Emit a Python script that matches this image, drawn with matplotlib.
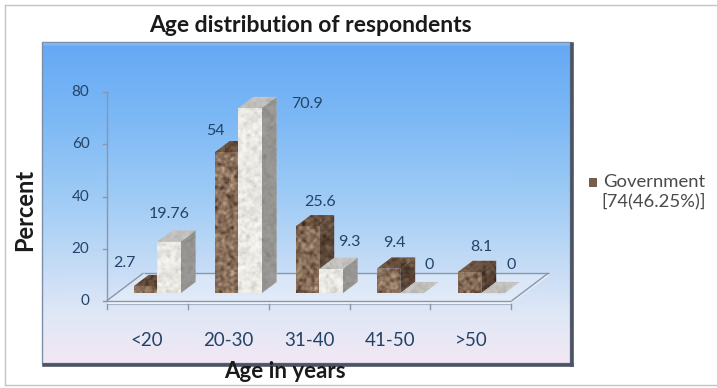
import numpy as np
import matplotlib
matplotlib.use("Agg")
import matplotlib.pyplot as plt
from matplotlib.patches import Polygon, Rectangle
from matplotlib.lines import Line2D
from matplotlib.colors import LinearSegmentedColormap, to_rgb

# ---- data ----
categories = ["<20", "20-30", "31-40", "41-50", ">50"]
government = [2.7, 54, 25.6, 9.4, 8.1]
private = [19.76, 70.9, 9.3, 0, 0]
y_ticks = [0, 20, 40, 60, 80]
title = "Age distribution of respondents"
x_title = "Age in years"
y_title = "Percent"
legend_lines = ["Government", "[74(46.25%)]"]

# label nudges (pixels) relative to the top-front centre of each bar
gov_label_offsets = [(-21, 23), (-11, 21), (12, 24), (6, 26), (12, 25)]
pri_label_offsets = [(0, 28), (57, 4), (18, 27), (17, 28), (18, 28)]

FONT = "Lato"
LABEL_COLOR = "#234468"

W, H = 717, 388
fig = plt.figure(figsize=(W / 100, H / 100), dpi=100)
fig.patch.set_facecolor("white")

# plot box (pixels) and the pseudo-3D scale
BX0, BX1, BY0, BY1 = 42, 570, 42, 363
X0PX, Y0PX, PX_CAT, PX_VAL = 147, 301, 81, 2.61
ax = fig.add_axes([BX0 / W, 1 - BY1 / H, (BX1 - BX0) / W, (BY1 - BY0) / H])
x_lo, x_hi = (BX0 - X0PX) / PX_CAT, (BX1 - X0PX) / PX_CAT
y_lo, y_hi = (Y0PX - BY1) / PX_VAL, (Y0PX - BY0) / PX_VAL
ext = [x_lo, x_hi, y_lo, y_hi]
ax.axis("off")

# depth vector of the floor (data units) and bar geometry
DX, DY = 37 / PX_CAT, 28 / PX_VAL
Z0, Z1 = 0.28, 0.68
BAR_W = 0.29

# ---- background gradient ----
npx_h, npx_w = BY1 - BY0, BX1 - BX0
stops = [(0, "#9cc8f6"), (4, "#66a9f4"), (70, "#7ab7f5"), (150, "#9ccaf5"),
         (225, "#c6dcf6"), (270, "#dfe7f6"), (321, "#f3e8f4")]
rows = np.arange(npx_h)
grad = np.zeros((npx_h, 1, 3))
for c in range(3):
    grad[:, 0, c] = np.interp(rows, [s[0] for s in stops],
                              [to_rgb(s[1])[c] for s in stops])
ax.imshow(grad, extent=ext, aspect="auto", origin="upper", zorder=0,
          interpolation="bilinear")

# ---- granite textures (deterministic hash noise, softened) ----
def hash_noise(nx, ny, cell, seed):
    jj, ii = np.meshgrid(np.arange(nx) // cell, np.arange(ny) // cell)
    v = np.sin(ii * 12.9898 + jj * 78.233 + seed) * 43758.5453
    return v - np.floor(v)


def box_blur(a, r):
    out = a.copy()
    for axis in (0, 1):
        acc = np.zeros_like(out)
        for s in range(-r, r + 1):
            acc += np.roll(out, s, axis=axis)
        out = acc / (2 * r + 1)
    return out


noise = (0.35 * hash_noise(npx_w, npx_h, 1, 0.3)
         + 0.35 * hash_noise(npx_w, npx_h, 2, 1.7)
         + 0.30 * hash_noise(npx_w, npx_h, 4, 5.1))
noise = box_blur(noise, 1)
noise = (noise - noise.min()) / (noise.max() - noise.min())
brown_cmap = LinearSegmentedColormap.from_list(
    "granite", ["#3e2c20", "#5e4636", "#7c6250", "#927862", "#ab937a", "#cdbca4"])
white_cmap = LinearSegmentedColormap.from_list(
    "marble", ["#c4c2bc", "#dcdad4", "#ebe9e4", "#f5f4f0", "#fdfdfb"])
brown_tex = brown_cmap(noise)[..., :3]
white_tex = white_cmap(noise)[..., :3]


def textured_face(xy, tex, z, shade=None, alpha=0.0):
    clip = Polygon(xy, closed=True, facecolor="none", edgecolor="none")
    ax.add_patch(clip)
    im = ax.imshow(tex, extent=ext, aspect="auto", origin="upper",
                   zorder=z, interpolation="bilinear")
    im.set_clip_path(clip)
    if shade is not None:
        ax.add_patch(Polygon(xy, closed=True, facecolor=shade, alpha=alpha,
                             edgecolor="none", zorder=z + 0.01))


def draw_bar(x_left, value, tex, z, top_shade, top_alpha, side_shade, side_alpha):
    fx0 = x_left + Z0 * DX
    fx1 = fx0 + BAR_W
    fy0 = Z0 * DY
    fy1 = fy0 + value
    ddx, ddy = (Z1 - Z0) * DX, (Z1 - Z0) * DY
    side = [(fx1, fy0), (fx1, fy1), (fx1 + ddx, fy1 + ddy), (fx1 + ddx, fy0 + ddy)]
    top = [(fx0, fy1), (fx1, fy1), (fx1 + ddx, fy1 + ddy), (fx0 + ddx, fy1 + ddy)]
    if value > 0:
        textured_face(side, tex, z, side_shade, side_alpha)
    textured_face(top, tex, z + 0.02, top_shade, top_alpha)
    if value > 0:
        front = [(fx0, fy0), (fx1, fy0), (fx1, fy1), (fx0, fy1)]
        textured_face(front, tex, z + 0.04)
    return (fx0 + fx1) / 2, fy1


# ---- floor ----
n = len(categories)
fl = [(-0.5, 0), (n - 0.5, 0), (n - 0.5 + DX, DY), (-0.5 + DX, DY)]
ax.add_patch(Polygon(fl, closed=True, facecolor="white", alpha=0.25,
                     edgecolor="none", zorder=2))
slab = 1.1
ax.add_patch(Polygon([(-0.5, 0), (n - 0.5, 0), (n - 0.5, -slab), (-0.5, -slab)],
                     closed=True, facecolor="#f4f6fb", edgecolor="none", zorder=2.1))
ax.add_patch(Polygon([(n - 0.5, 0), (n - 0.5 + DX, DY), (n - 0.5 + DX, DY - slab),
                      (n - 0.5, -slab)], closed=True, facecolor="#e6ecf6",
                     edgecolor="none", zorder=2.1))
edge_kw = dict(color="#8a96aa", lw=1.0, zorder=3, solid_capstyle="butt")
ax.plot([fl[3][0], fl[2][0]], [fl[3][1], fl[2][1]], **edge_kw)
ax.plot([fl[0][0], fl[3][0]], [fl[0][1], fl[3][1]], **edge_kw)
ax.plot([fl[1][0], fl[2][0]], [fl[1][1], fl[2][1]], **edge_kw)
ax.plot([fl[0][0], fl[1][0]], [0, 0], **edge_kw)
ax.plot([fl[0][0], fl[1][0]], [-slab, -slab], color="#a8b2c4", lw=0.8, zorder=3)

# value axis
ax.plot([-0.5, -0.5], [0, max(y_ticks)], color="#8a96aa", lw=1.0, zorder=3)
for t in y_ticks:
    ax.plot([-0.5 - 4 / PX_CAT, -0.5], [t, t], color="#8a96aa", lw=1.0, zorder=3)
    ax.annotate(str(t), (-0.5, t), xytext=(-17, 0), textcoords="offset pixels",
                ha="right", va="center", fontsize=11, family=FONT,
                color=LABEL_COLOR, zorder=20)

# category ticks and labels
for k in range(n + 1):
    ax.plot([k - 0.5, k - 0.5], [-slab, -slab - 5 / PX_VAL], color="#8a96aa",
            lw=1.0, zorder=3)
for i, cat in enumerate(categories):
    ax.annotate(cat, (i, 0), xytext=(0, -39), textcoords="offset pixels",
                ha="center", va="center", fontsize=13.5, family=FONT,
                color=LABEL_COLOR, zorder=20)

# ---- bars ----
for i in range(n):
    zb = 10 + i
    gx, gy = draw_bar(i - BAR_W, government[i], brown_tex, zb,
                      "#2a1408", 0.32, "#1a0e06", 0.40)
    px, py = draw_bar(i, private[i], white_tex, zb + 0.5,
                      "#5a5a5a", 0.28, "#303030", 0.45)
    for (x, y, v, off) in [(gx, gy, government[i], gov_label_offsets[i]),
                           (px, py, private[i], pri_label_offsets[i])]:
        ax.annotate(f"{v:g}", (x, y), xytext=off, textcoords="offset pixels",
                    ha="center", va="center", fontsize=11.5, family=FONT,
                    color=LABEL_COLOR, zorder=30)

ax.set_xlim(x_lo, x_hi)
ax.set_ylim(y_lo, y_hi)

# ---- plot box frame with shadow ----
ax.add_patch(Rectangle((0, 0), 1, 1, transform=ax.transAxes, fill=False,
                       edgecolor="#7d8fa8", lw=1.0, zorder=40, clip_on=False))
ax.add_line(Line2D([1.003, 1.003], [-0.006, 0.995], transform=ax.transAxes,
                   color="#4c5464", lw=2.6, zorder=41, clip_on=False))
ax.add_line(Line2D([0.004, 1.003], [-0.006, -0.006], transform=ax.transAxes,
                   color="#4c5464", lw=2.6, zorder=41, clip_on=False))

# ---- outer border ----
fig.add_artist(Line2D([5 / W, 1.0], [1 - 5 / H, 1 - 5 / H], transform=fig.transFigure,
                      color="#c4c4c4", lw=1.0))
fig.add_artist(Line2D([5 / W, 5 / W], [1 - 5 / H, 1 - 385 / H], transform=fig.transFigure,
                      color="#c4c4c4", lw=1.0))
fig.add_artist(Line2D([5 / W, 1.0], [1 - 385 / H, 1 - 385 / H], transform=fig.transFigure,
                      color="#c4c4c4", lw=1.0))

# ---- titles ----
fig.text(310 / W, 1 - 25 / H, title, ha="center", va="center", fontsize=16.5,
         fontweight="bold", family=FONT, color="#1a1a1a")
fig.text(25 / W, 1 - 210 / H, y_title, ha="center", va="center", rotation=90,
         fontsize=17, fontweight="bold", family=FONT, color="#1a1a1a")
fig.text(285 / W, 1 - 372 / H, x_title, ha="center", va="center", fontsize=16,
         fontweight="bold", family=FONT, color="#1a1a1a", zorder=50)

# ---- legend ----
fig.add_artist(Rectangle((589 / W, 1 - 186 / H), 7 / W, 8 / H, transform=fig.transFigure,
                         facecolor="#7a5e48", edgecolor="#4a3a2e", lw=0.5))
fig.text(603 / W, 1 - 182 / H, legend_lines[0], ha="left", va="center",
         fontsize=13.3, family=FONT, color="#4a4a4a")
fig.text(601 / W, 1 - 201 / H, legend_lines[1], ha="left", va="center",
         fontsize=13.3, family=FONT, color="#4a4a4a")

fig.savefig("out.png", dpi=100)
